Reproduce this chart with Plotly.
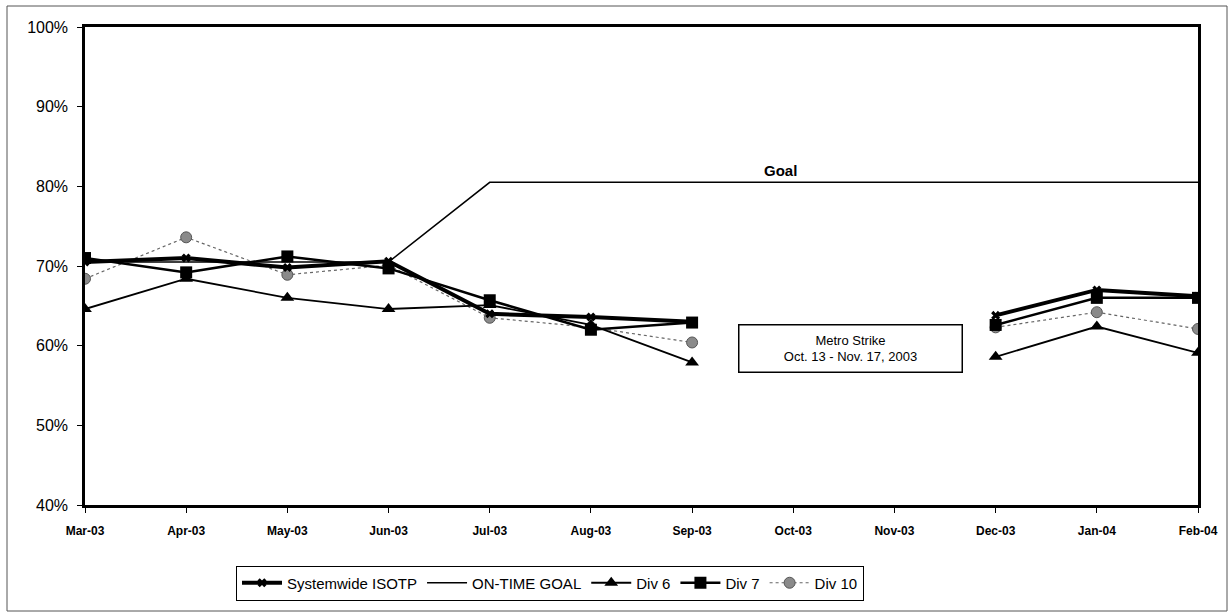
import plotly.graph_objects as go

months = ["Mar-03", "Apr-03", "May-03", "Jun-03", "Jul-03", "Aug-03", "Sep-03",
          "Oct-03", "Nov-03", "Dec-03", "Jan-04", "Feb-04"]
systemwide = [70.5, 71.0, 69.8, 70.6, 64.0, 63.6, 63.0, None, None, 63.8, 67.0, 66.2]
goal = [70.5, 70.5, 70.5, 70.5, 80.5, 80.5, 80.5, 80.5, 80.5, 80.5, 80.5, 80.5]
div6 = [64.6, 68.4, 66.0, 64.6, 65.1, 62.6, 57.9, None, None, 58.6, 62.4, 59.1]
div7 = [71.0, 69.2, 71.2, 69.7, 65.7, 62.0, 62.9, None, None, 62.6, 66.0, 66.0]
div10 = [68.4, 73.6, 68.9, 70.1, 63.5, 62.3, 60.4, None, None, 62.3, 64.2, 62.1]
yticks = [40, 50, 60, 70, 80, 90, 100]

FONT = "Liberation Sans, Arial, sans-serif"

fig = go.Figure()
fig.add_trace(go.Scatter(x=months, y=goal, name="ON-TIME GOAL", mode="lines",
                         line=dict(color="black", width=1.5), showlegend=False))
fig.add_trace(go.Scatter(x=months, y=div10, name="Div 10", mode="lines+markers",
                         line=dict(color="#666666", width=1.2, dash="dot"),
                         marker=dict(symbol="circle", size=11, color="#8a8a8a",
                                     line=dict(color="#555555", width=1)),
                         showlegend=False))
fig.add_trace(go.Scatter(x=months, y=div6, name="Div 6", mode="lines+markers",
                         line=dict(color="black", width=1.8),
                         marker=dict(symbol="triangle-up", size=12, color="black"),
                         showlegend=False))
fig.add_trace(go.Scatter(x=months, y=div7, name="Div 7", mode="lines+markers",
                         line=dict(color="black", width=2.5),
                         marker=dict(symbol="square", size=12, color="black"),
                         showlegend=False))
fig.add_trace(go.Scatter(x=months, y=systemwide, name="Systemwide ISOTP", mode="lines+markers",
                         line=dict(color="black", width=4),
                         marker=dict(symbol="x", size=8, color="black"),
                         showlegend=False))

# legend-only traces in the reference order
legend_specs = [
    ("Systemwide ISOTP", dict(color="black", width=4), dict(symbol="x", size=8, color="black")),
    ("ON-TIME GOAL", dict(color="black", width=1.5), None),
    ("Div 6", dict(color="black", width=1.8), dict(symbol="triangle-up", size=12, color="black")),
    ("Div 7", dict(color="black", width=2.5), dict(symbol="square", size=12, color="black")),
    ("Div 10", dict(color="#666666", width=1.2, dash="dot"),
     dict(symbol="circle", size=11, color="#8a8a8a", line=dict(color="#555555", width=1))),
]
for name, ln, mk in legend_specs:
    fig.add_trace(go.Scatter(x=[None], y=[None], name=name,
                             mode="lines+markers" if mk else "lines",
                             line=ln, marker=mk if mk else None))

L, R, T, B = 85, 1198, 27, 505
W, H = R - L, B - T

def px(xp):
    return (xp - L) / W

def py(yp):
    return (B - yp) / H

fig.add_annotation(x=6.87, y=82.0, xref="x", yref="y", text="<b>Goal</b>", showarrow=False,
                   font=dict(family=FONT, size=15, color="black"))
fig.add_annotation(x=7.57, y=59.6, xref="x", yref="y",
                   text="Metro Strike<br>Oct. 13 - Nov. 17, 2003", showarrow=False,
                   font=dict(family=FONT, size=13, color="black"),
                   bordercolor="black", borderwidth=1.5, bgcolor="white",
                   width=220, height=44, align="center")

# outer chart frame
fig.add_shape(type="rect", xref="paper", yref="paper",
              x0=px(7), x1=px(1227), y0=py(611), y1=py(6),
              line=dict(color="#555555", width=1), layer="below")

fig.update_layout(
    width=1231, height=614,
    margin=dict(l=L, r=1231 - R, t=T, b=614 - B),
    paper_bgcolor="white", plot_bgcolor="white",
    font=dict(family=FONT, color="black"),
    legend=dict(orientation="h", x=px(550), y=py(583), xanchor="center", yanchor="middle",
                bordercolor="black", borderwidth=1, bgcolor="white",
                font=dict(family=FONT, size=15, color="black"),
                itemwidth=40, tracegroupgap=0),
    xaxis=dict(type="category", categoryorder="array", categoryarray=months,
               range=[0, len(months) - 1], showline=True, linecolor="black", linewidth=2.5,
               mirror=True, ticks="outside", ticklen=5, tickcolor="black",
               showgrid=False, zeroline=False, ticklabelstandoff=8,
               tickfont=dict(family=FONT, size=12, color="black", weight="bold")),
    yaxis=dict(range=[40, 100], tickvals=yticks, ticktext=[f"{v}%" for v in yticks],
               showline=True, linecolor="black", linewidth=2.5, mirror=True,
               ticks="outside", ticklen=5, tickcolor="black", showgrid=False, zeroline=False,
               ticklabelstandoff=6,
               tickfont=dict(family=FONT, size=16, color="black")),
)

fig.write_html("out.html")
